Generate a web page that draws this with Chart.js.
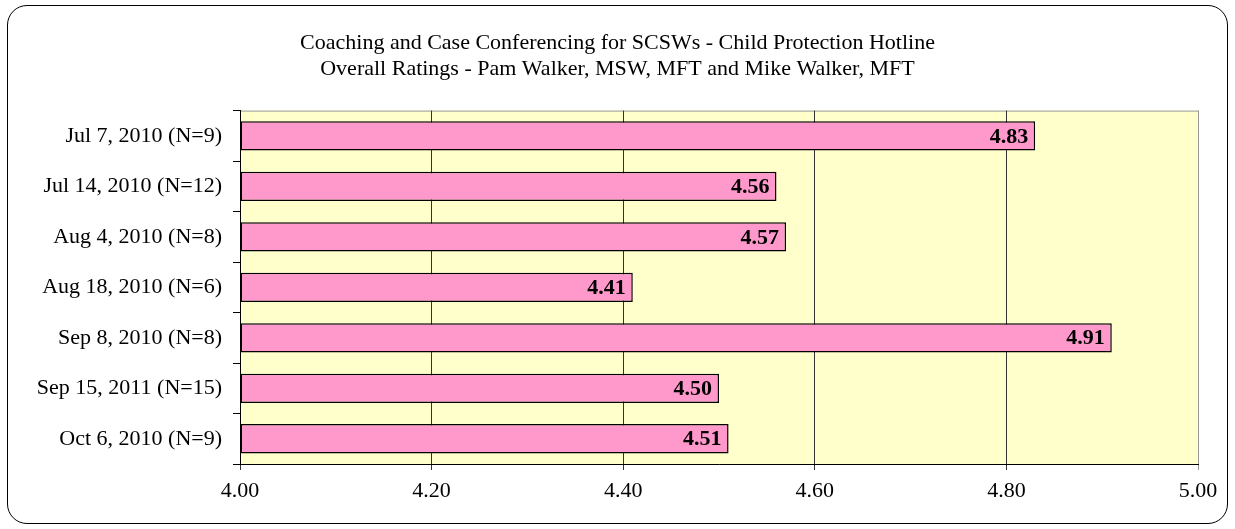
<!DOCTYPE html>
<html>
<head>
<meta charset="utf-8">
<script src="https://cdn.jsdelivr.net/npm/chart.js@4"></script>
<style>
  html, body { margin: 0; padding: 0; background: #fff; }
  #wrap { position: relative; width: 1235px; height: 529px; }
  #frame { position: absolute; left: 7px; top: 5px; width: 1219px; height: 517px;
           border: 1.5px solid #000; border-radius: 20px; }
  canvas { position: absolute; left: 0; top: 0; }
</style>
</head>
<body>
<div id="wrap">
  <div id="frame"></div>
  <canvas id="chart" width="1235" height="529"></canvas>
</div>
<script>
// sessions and their overall ratings
var sessions = [
  "Jul 7, 2010 (N=9)",
  "Jul 14, 2010 (N=12)",
  "Aug 4, 2010 (N=8)",
  "Aug 18, 2010 (N=6)",
  "Sep 8, 2010 (N=8)",
  "Sep 15, 2011 (N=15)",
  "Oct 6, 2010 (N=9)"
];
var ratings = [4.83, 4.56, 4.57, 4.41, 4.91, 4.50, 4.51];

var titleLines = [
  "Coaching and Case Conferencing for SCSWs - Child Protection Hotline",
  "Overall Ratings - Pam Walker, MSW, MFT and Mike Walker, MFT"
];

var serif = "'Liberation Serif', 'Times New Roman', serif";

// yellow plot area with a gray frame
var plotBg = {
  id: 'plotBg',
  beforeDraw: function(chart) {
    var a = chart.chartArea, ctx = chart.ctx;
    ctx.save();
    ctx.fillStyle = '#FFFFCC';
    ctx.fillRect(a.left, a.top, a.right - a.left, a.bottom - a.top);
    ctx.strokeStyle = '#999';
    ctx.lineWidth = 1;
    ctx.strokeRect(a.left + 0.5, a.top + 0.5, a.right - a.left, a.bottom - a.top);
    ctx.restore();
  }
};

// value labels inside the end of each bar
var barLabels = {
  id: 'barLabels',
  afterDatasetsDraw: function(chart) {
    var ctx = chart.ctx;
    var meta = chart.getDatasetMeta(0);
    ctx.save();
    ctx.font = "bold 22px " + serif;
    ctx.fillStyle = '#000';
    ctx.textAlign = 'right';
    ctx.textBaseline = 'middle';
    meta.data.forEach(function(bar, i) {
      ctx.fillText(ratings[i].toFixed(2), bar.x - 7, bar.y + 1);
    });
    ctx.restore();
  }
};

var ctx = document.getElementById('chart').getContext('2d');
var chart = new Chart(ctx, {
  type: 'bar',
  data: {
    labels: sessions,
    datasets: [{
      data: ratings,
      base: 4,
      backgroundColor: '#FF99CC',
      borderColor: '#000',
      borderWidth: 1.5,
      borderSkipped: false,
      barPercentage: 0.58,
      categoryPercentage: 1
    }]
  },
  options: {
    indexAxis: 'y',
    responsive: false,
    animation: false,
    layout: { padding: { left: 37, right: 37, top: 0, bottom: 0 } },
    plugins: {
      legend: { display: false },
      tooltip: { enabled: false },
      title: {
        display: true,
        text: titleLines,
        color: '#000',
        font: { family: serif, size: 22, weight: 'normal', lineHeight: 1.15 },
        padding: { top: 31, bottom: 29 }
      }
    },
    scales: {
      x: {
        min: 4,
        max: 5,
        afterFit: function(scale) { scale.height = 65; },
        ticks: {
          stepSize: 0.2,
          color: '#000',
          padding: 8,
          font: { family: serif, size: 22 },
          callback: function(v) { return Number(v).toFixed(2); }
        },
        grid: {
          color: function(c) { return c.index === 5 ? '#999' : '#333'; },
          lineWidth: 1,
          tickLength: 6
        },
        border: { color: '#000', width: 1 }
      },
      y: {
        afterFit: function(scale) { scale.width = 203; },
        ticks: {
          color: '#000',
          padding: 11,
          font: { family: serif, size: 22 }
        },
        grid: {
          offset: true,
          drawOnChartArea: false,
          color: '#000',
          tickLength: 7
        },
        border: { color: '#000', width: 1 }
      }
    }
  },
  plugins: [plotBg, barLabels]
});
</script>
</body>
</html>
